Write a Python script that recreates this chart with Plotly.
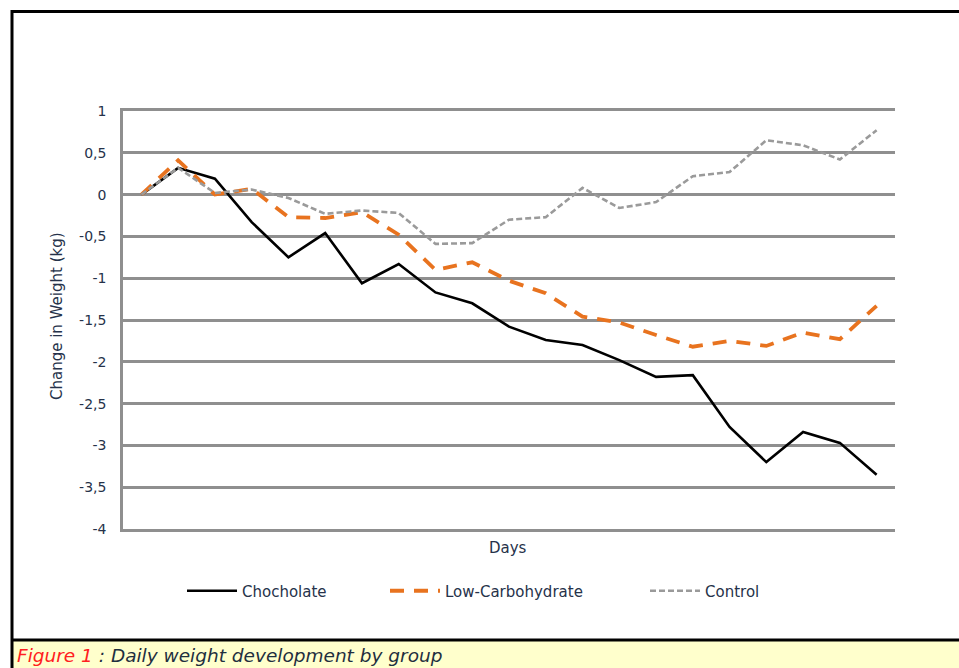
import plotly.graph_objects as go

# ---- data ----
days = list(range(1, 22))
chocolate = [0, 0.32, 0.19, -0.33, -0.75, -0.46, -1.06, -0.83, -1.17, -1.30, -1.58,
             -1.74, -1.80, -1.98, -2.18, -2.16, -2.78, -3.20, -2.84, -2.97, -3.35]
low_carb = [0, 0.41, 0.0, 0.07, -0.27, -0.28, -0.21, -0.48, -0.90, -0.81, -1.03,
            -1.18, -1.46, -1.53, -1.68, -1.82, -1.75, -1.81, -1.65, -1.73, -1.33]
control = [0, 0.32, 0.02, 0.06, -0.04, -0.23, -0.19, -0.22, -0.59, -0.58, -0.30,
           -0.27, 0.08, -0.16, -0.09, 0.22, 0.27, 0.65, 0.59, 0.42, 0.77]
series_names = ["Chocholate", "Low-Carbohydrate", "Control"]
y_tickvals = [1, 0.5, 0, -0.5, -1, -1.5, -2, -2.5, -3, -3.5, -4]
y_ticktext = ["1", "0,5", "0", "-0,5", "-1", "-1,5", "-2", "-2,5", "-3", "-3,5", "-4"]

FONT = "'DejaVu Sans', sans-serif"
TXT = "#26324A"
W, H = 959, 668
L, R, T, B = 123, 895, 111, 529

def px_x(p):
    return (p - L) / (R - L)

def px_y(p):
    return (B - p) / (B - T)

fig = go.Figure()
fig.add_trace(go.Scatter(x=days, y=chocolate, mode="lines", name=series_names[0],
                         line=dict(color="#000000", width=2.6), legend="legend"))
fig.add_trace(go.Scatter(x=days, y=low_carb, mode="lines", name=series_names[1],
                         line=dict(color="#E8731F", width=3.8, dash="14px,10px"),
                         legend="legend2"))
fig.add_trace(go.Scatter(x=days, y=control, mode="lines", name=series_names[2],
                         line=dict(color="#9A9A9A", width=2.6, dash="6px,3px"),
                         legend="legend3"))

leg_common = dict(orientation="h", font=dict(family=FONT, size=15, color=TXT),
                  bgcolor="rgba(0,0,0,0)", yanchor="middle", xanchor="left",
                  y=px_y(591), itemwidth=50)

fig.update_layout(
    width=W, height=H,
    margin=dict(l=L, r=W - R, t=T, b=H - B),
    paper_bgcolor="white", plot_bgcolor="white",
    showlegend=True,
    legend=dict(x=px_x(182), **leg_common),
    legend2=dict(x=px_x(385), **leg_common),
    legend3=dict(x=px_x(645), **leg_common),
    xaxis=dict(type="linear", range=[0.5, 21.5], showgrid=False, zeroline=False,
               showticklabels=False, ticks="", showline=True, mirror=True,
               linecolor="#8F8F8F", linewidth=2.5),
    yaxis=dict(range=[-4, 1], tickvals=y_tickvals, ticktext=y_ticktext,
               showgrid=True, gridcolor="#8F8F8F", gridwidth=2.5,
               zeroline=False, showline=True, linecolor="#8F8F8F", linewidth=2.5,
               ticks="", ticklabelstandoff=11,
               tickfont=dict(family=FONT, size=14, color=TXT)),
    shapes=[
        # caption background
        dict(type="rect", xref="paper", yref="paper",
             x0=px_x(12), x1=px_x(959), y0=px_y(641), y1=px_y(668),
             fillcolor="#FFFFCC", line=dict(width=0), layer="below"),
        # outer frame
        dict(type="line", xref="paper", yref="paper",
             x0=px_x(12), x1=px_x(959), y0=px_y(11.5), y1=px_y(11.5),
             line=dict(color="black", width=3)),
        dict(type="line", xref="paper", yref="paper",
             x0=px_x(12), x1=px_x(959), y0=px_y(640), y1=px_y(640),
             line=dict(color="black", width=3)),
        dict(type="line", xref="paper", yref="paper",
             x0=px_x(12), x1=px_x(12), y0=px_y(10), y1=px_y(668),
             line=dict(color="black", width=3)),
    ],
    annotations=[
        dict(text="Days", xref="paper", yref="paper", x=px_x(508), y=px_y(548),
             xanchor="center", yanchor="middle",
             showarrow=False, font=dict(family=FONT, size=15, color=TXT)),
        dict(text="Change in Weight (kg)", xref="paper", yref="paper",
             x=px_x(57), y=px_y(316), xanchor="center", yanchor="middle",
             textangle=-90, showarrow=False,
             font=dict(family=FONT, size=15, color=TXT)),
        dict(text="<i><span style='color:#FF2020'>Figure 1</span> : Daily weight development by group</i>",
             xref="paper", yref="paper", x=px_x(15), y=px_y(668),
             xanchor="left", yanchor="bottom", showarrow=False,
             font=dict(family=FONT, size=18.5, color="#1F2F3F")),
    ],
)

fig.write_html("out.html", config={"displayModeBar": False},
               post_script="document.body.style.margin='0';document.body.style.overflow='hidden';")
